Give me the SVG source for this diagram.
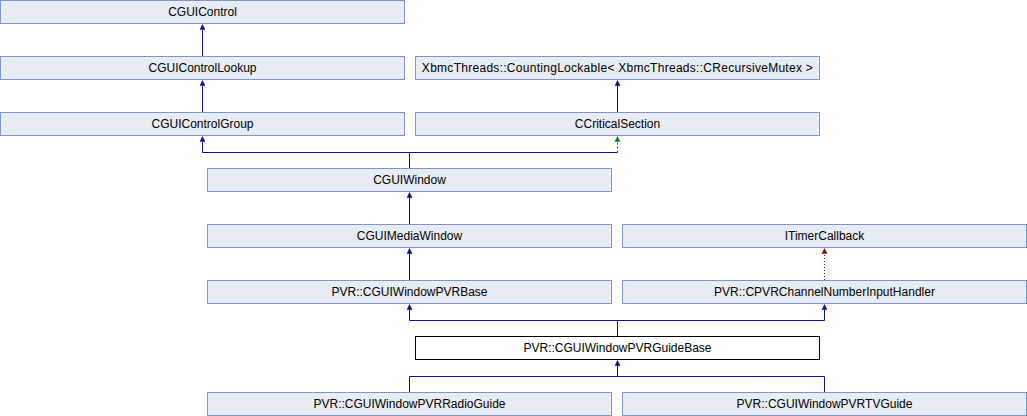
<svg xmlns="http://www.w3.org/2000/svg" width="1027" height="416" viewBox="0 0 1027 416">
<defs>
<style>
.n rect{fill:#e8ecf4;stroke:#7b96cc;stroke-width:1}
.n.w rect{fill:#ffffff;stroke:#000000}
.n text{font-family:"Liberation Sans",Arial,sans-serif;font-size:12px;fill:#000000;text-anchor:middle}
.e{fill:none;stroke:#10109a;stroke-width:1}
.g{fill:none;stroke:#008800;stroke-width:1;stroke-dasharray:2,2}
.r{fill:none;stroke:#8b0000;stroke-width:1;stroke-dasharray:1,2}
.hb{fill:#10109a;stroke:#10109a;stroke-width:0.5}
.hg{fill:#008800;stroke:#008800;stroke-width:0.5}
.hr{fill:#8b0000;stroke:#8b0000;stroke-width:0.5}
</style>
</defs>
<rect width="1027" height="416" fill="#ffffff"/>
<g id="connectors">
<path class="e" d="M202.5,56V29"/>
<path class="hb" d="M202.5,24.5L205,29.5H200Z"/>
<path class="e" d="M202.5,112V85"/>
<path class="hb" d="M202.5,80.5L205,85.5H200Z"/>
<path class="e" d="M617.5,112V85"/>
<path class="hb" d="M617.5,80.5L620,85.5H615Z"/>
<path class="e" d="M409.5,168V152.5H202.5V141"/>
<path class="hb" d="M202.5,136.5L205,141.5H200Z"/>
<path class="e" d="M409.5,152.5H617.5"/>
<path class="g" d="M617.5,152.5V141"/>
<path class="hg" d="M617.5,136.5L620,141.5H615Z"/>
<path class="e" d="M409.5,224V197"/>
<path class="hb" d="M409.5,192.5L412,197.5H407Z"/>
<path class="e" d="M409.5,280V253"/>
<path class="hb" d="M409.5,248.5L412,253.5H407Z"/>
<path class="r" d="M824.5,280V253"/>
<path class="hr" d="M824.5,248.5L827,253.5H822Z"/>
<path class="e" d="M617.5,336V320.5H409.5V309"/>
<path class="hb" d="M409.5,304.5L412,309.5H407Z"/>
<path class="e" d="M617.5,320.5H824.5V309"/>
<path class="hb" d="M824.5,304.5L827,309.5H822Z"/>
<path class="e" d="M409.5,392V376.5H824.5V392"/>
<path class="e" d="M617.5,376.5V365"/>
<path class="hb" d="M617.5,360.5L620,365.5H615Z"/>
</g>
<g id="CGUIControl" class="n"><rect x="0.5" y="0.5" width="404" height="23"/><text x="202.5" y="15.5">CGUIControl</text></g>
<g id="CGUIControlLookup" class="n"><rect x="0.5" y="56.5" width="404" height="23"/><text x="202.5" y="71.5">CGUIControlLookup</text></g>
<g id="CountingLockable" class="n"><rect x="415.5" y="56.5" width="404" height="23"/><text x="617.5" y="71.5" letter-spacing="0.28">XbmcThreads::CountingLockable&lt; XbmcThreads::CRecursiveMutex &gt;</text></g>
<g id="CGUIControlGroup" class="n"><rect x="0.5" y="112.5" width="404" height="23"/><text x="202.5" y="127.5">CGUIControlGroup</text></g>
<g id="CCriticalSection" class="n"><rect x="415.5" y="112.5" width="404" height="23"/><text x="617.5" y="127.5">CCriticalSection</text></g>
<g id="CGUIWindow" class="n"><rect x="207.5" y="168.5" width="404" height="23"/><text x="409.5" y="183.5">CGUIWindow</text></g>
<g id="CGUIMediaWindow" class="n"><rect x="207.5" y="224.5" width="404" height="23"/><text x="409.5" y="239.5">CGUIMediaWindow</text></g>
<g id="ITimerCallback" class="n"><rect x="622.5" y="224.5" width="404" height="23"/><text x="824.5" y="239.5">ITimerCallback</text></g>
<g id="CGUIWindowPVRBase" class="n"><rect x="207.5" y="280.5" width="404" height="23"/><text x="409.5" y="295.5">PVR::CGUIWindowPVRBase</text></g>
<g id="CPVRChannelNumberInputHandler" class="n"><rect x="622.5" y="280.5" width="404" height="23"/><text x="824.5" y="295.5">PVR::CPVRChannelNumberInputHandler</text></g>
<g id="CGUIWindowPVRGuideBase" class="n w"><rect x="415.5" y="336.5" width="404" height="23"/><text x="617.5" y="351.5">PVR::CGUIWindowPVRGuideBase</text></g>
<g id="CGUIWindowPVRRadioGuide" class="n"><rect x="207.5" y="392.5" width="404" height="23"/><text x="409.5" y="407.5">PVR::CGUIWindowPVRRadioGuide</text></g>
<g id="CGUIWindowPVRTVGuide" class="n"><rect x="622.5" y="392.5" width="404" height="23"/><text x="824.5" y="407.5">PVR::CGUIWindowPVRTVGuide</text></g>
</svg>
